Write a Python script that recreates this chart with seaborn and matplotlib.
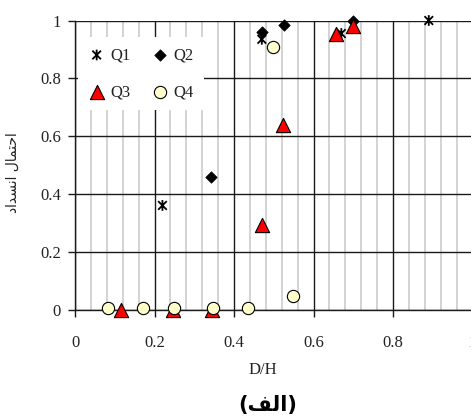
import numpy as np
import pandas as pd
import matplotlib
matplotlib.use("Agg")
import matplotlib.pyplot as plt
from matplotlib.path import Path
from matplotlib.ticker import MultipleLocator
import seaborn as sns

# ---- data ----
q1_x = [0.22, 0.47, 0.67, 0.89]
q1_y = [0.36, 0.935, 0.955, 1.0]
q2_x = [0.342, 0.47, 0.526, 0.699]
q2_y = [0.458, 0.96, 0.983, 1.0]
q3_x = [0.115, 0.246, 0.344, 0.471, 0.524, 0.657, 0.699]
q3_y = [0.0, 0.0, 0.0, 0.294, 0.637, 0.952, 0.98]
q4_x = [0.084, 0.172, 0.249, 0.348, 0.434, 0.497, 0.549]
q4_y = [0.005, 0.005, 0.005, 0.005, 0.005, 0.908, 0.046]

x_ticks = [0, 0.2, 0.4, 0.6, 0.8, 1]
y_ticks = [0, 0.2, 0.4, 0.6, 0.8, 1]
x_tick_labels = ["0", "0.2", "0.4", "0.6", "0.8", "1"]
y_tick_labels = ["0", "0.2", "0.4", "0.6", "0.8", "1"]
series_names = ["Q1", "Q2", "Q3", "Q4"]

x_label = "D/H"
# Persian text in visual order with Arabic presentation forms (matplotlib has no shaping)
y_label = "\uFEA9\uFE8D\uFEAA\uFEB4\uFEE7\uFE8D \uFEDD\uFE8E\uFEE4\uFE98\uFEA3\uFE8D"  # احتمال انسداد
caption = "(\uFED2\uFEDF\uFE8D)"  # (الف)

sns.set_style("white")
plt.rcParams["font.family"] = ["Liberation Serif", "DejaVu Sans"]

fig = plt.figure(figsize=(4.71, 4.19), dpi=100)
ax = fig.add_axes([75 / 471, (419 - 309.5) / 419, 397.5 / 471, 289 / 419])

star = Path([(0, -1), (0, 1), (-0.8, -0.8), (0.8, 0.8), (-0.8, 0.8), (0.8, -0.8)],
            [Path.MOVETO, Path.LINETO, Path.MOVETO, Path.LINETO, Path.MOVETO, Path.LINETO])

d1 = pd.DataFrame({"x": q1_x, "y": q1_y})
d2 = pd.DataFrame({"x": q2_x, "y": q2_y})
d3 = pd.DataFrame({"x": q3_x, "y": q3_y})
d4 = pd.DataFrame({"x": q4_x, "y": q4_y})

sns.scatterplot(data=d1, x="x", y="y", ax=ax, marker=star, s=60, facecolor="none",
                edgecolor="black", linewidth=1.3, label=series_names[0], zorder=5, clip_on=False)
sns.scatterplot(data=d2, x="x", y="y", ax=ax, marker="D", s=34, color="black",
                edgecolor="black", linewidth=0.5, label=series_names[1], zorder=6, clip_on=False)
sns.scatterplot(data=d3, x="x", y="y", ax=ax, marker="^", s=105, color="#ff0000",
                edgecolor="black", linewidth=0.8, label=series_names[2], zorder=7, clip_on=False)
sns.scatterplot(data=d4, x="x", y="y", ax=ax, marker="o", s=78, color="#ffffcc",
                edgecolor="black", linewidth=0.8, label=series_names[3], zorder=8, clip_on=False)

ax.set_xlim(0, 1)
ax.set_ylim(0, 1)
ax.set_xticks(x_ticks)
ax.set_xticklabels(x_tick_labels)
ax.set_yticks(y_ticks)
ax.set_yticklabels(y_tick_labels)
ax.xaxis.set_minor_locator(MultipleLocator(0.04))

ax.grid(which="minor", axis="x", color="#cccccc", linewidth=1.2, zorder=0)
ax.grid(which="major", axis="both", color="#1a1a1a", linewidth=1.0, zorder=1)
ax.set_axisbelow(True)

for side in ["top", "right"]:
    ax.spines[side].set_visible(False)
for side in ["left", "bottom"]:
    ax.spines[side].set_color("#1a1a1a")
    ax.spines[side].set_linewidth(1.0)

ax.tick_params(axis="both", which="major", direction="out", length=5, width=1.0,
               color="#1a1a1a", labelsize=12, labelcolor="#222222", bottom=True, left=True)
ax.tick_params(axis="x", which="major", pad=13)
ax.tick_params(axis="y", which="major", pad=5)
ax.tick_params(axis="x", which="minor", length=0)

ax.set_xlabel(x_label, fontsize=12, color="#222222")
ax.xaxis.set_label_coords((262.5 - 75) / 397.5, -(362 - 309.5) / 289)
ax.set_ylabel("")

fig.text(13 / 471, 1 - 173 / 419, y_label, rotation=90, ha="center", va="center",
         fontsize=10, family="DejaVu Sans", color="#222222")
fig.text(268 / 471, 1 - 405 / 419, caption, ha="center", va="center",
         fontsize=15, fontweight="bold", family="DejaVu Sans", color="black")

handles, labels = ax.get_legend_handles_labels()
order = [0, 2, 1, 3]
leg = ax.legend([handles[i] for i in order], [labels[i] for i in order], ncol=2,
                loc="upper left", bbox_to_anchor=((70 - 75) / 397.5, (309.5 - 29) / 289),
                frameon=True, facecolor="white", edgecolor="none", framealpha=1.0,
                fancybox=False, fontsize=12, handlelength=1.0, handletextpad=0.3,
                columnspacing=1.3, labelspacing=1.25, borderpad=0.6)
for t in leg.get_texts():
    t.set_color("#222222")
leg.set_zorder(4)

fig.savefig("out.png", dpi=100, facecolor="white")
